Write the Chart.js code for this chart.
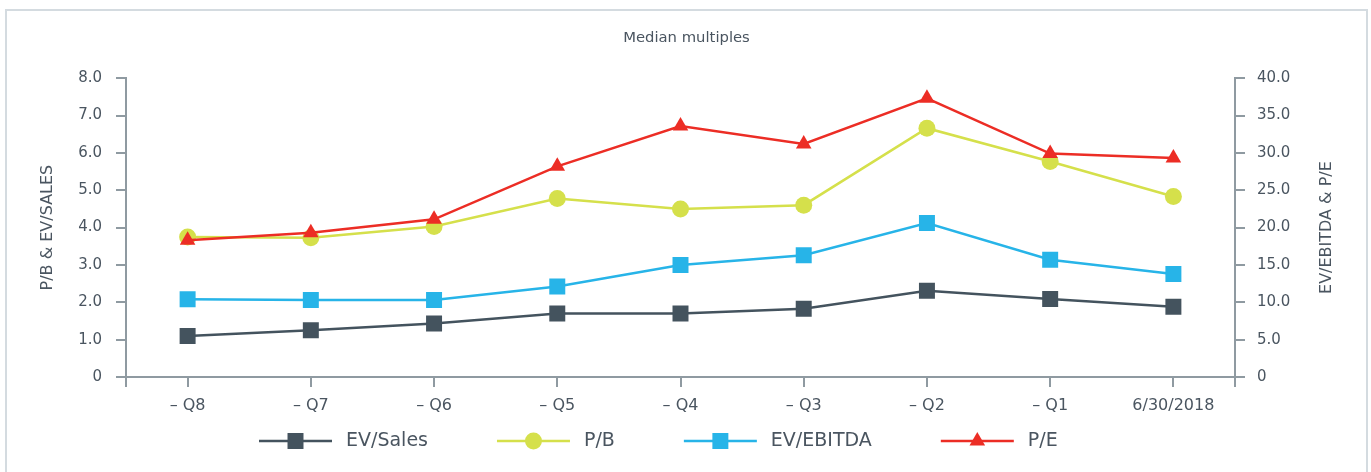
<!DOCTYPE html>
<html>
<head>
<meta charset="utf-8">
<title>Median multiples</title>
<script src="https://cdn.jsdelivr.net/npm/chart.js@4.4.1/dist/chart.umd.min.js"></script>
<style>
  html, body { margin: 0; padding: 0; background: #fff; overflow: hidden; }
  #frame {
    position: absolute; left: 5px; top: 9px; width: 1359px; height: 500px;
    border: 2px solid #d4dbe0; border-bottom: none; pointer-events: none;
  }
  canvas { position: absolute; left: 0; top: 0; }
</style>
</head>
<body>
<canvas id="chart" width="1371" height="472"></canvas>
<div id="frame"></div>
<script>
// --- DATA ---
const quarters = ['– Q8', '– Q7', '– Q6', '– Q5', '– Q4', '– Q3', '– Q2', '– Q1', '6/30/2018'];
const evSales  = [1.10, 1.25, 1.43, 1.70, 1.70, 1.83, 2.31, 2.09, 1.88];
const pb       = [3.75, 3.73, 4.03, 4.78, 4.50, 4.60, 6.66, 5.77, 4.83];
const evEbitda = [10.4, 10.3, 10.3, 12.1, 15.0, 16.3, 20.6, 15.7, 13.8];
const pe       = [18.3, 19.3, 21.1, 28.2, 33.6, 31.2, 37.3, 29.9, 29.3];

const leftTitle  = 'P/B & EV/SALES';
const rightTitle = 'EV/EBITDA & P/E';

// --- STYLE ---
const FONT = "'DejaVu Sans', sans-serif";
const TEXT = '#4a5560';
const AXIS = '#8f9aa1';
const C_SALES = '#44535e', C_PB = '#d5e04b', C_EBITDA = '#27b4e8', C_PE = '#ec2d25';

const fmt = (v) => v === 0 ? '0' : v.toFixed(1);

// custom legend: line + marker + label, drawn under the x axis
const lineLegend = {
  id: 'lineLegend',
  afterDraw(chart) {
    const { ctx, chartArea: area } = chart;
    const y = area.bottom + 64;
    let x = area.left + 133;
    ctx.save();
    ctx.font = `19px ${FONT}`;
    ctx.textBaseline = 'middle';
    ctx.textAlign = 'left';
    chart.data.datasets.forEach(ds => {
      ctx.strokeStyle = ds.borderColor;
      ctx.lineWidth = 2.5;
      ctx.beginPath();
      ctx.moveTo(x, y);
      ctx.lineTo(x + 73, y);
      ctx.stroke();
      ctx.fillStyle = ds.pointBackgroundColor;
      Chart.helpers.drawPoint(ctx, { pointStyle: ds.pointStyle, radius: ds.pointRadius, rotation: 0, borderWidth: 0 }, x + 36.5, y);
      ctx.fillStyle = TEXT;
      ctx.fillText(ds.label, x + 87, y);
      x += 87 + ctx.measureText(ds.label).width + 69;
    });
    ctx.restore();
  }
};

// axis stubs below the x axis + right title reading bottom-to-top
const axisExtras = {
  id: 'axisExtras',
  afterDraw(chart) {
    const { ctx, chartArea: area } = chart;
    ctx.save();
    ctx.strokeStyle = AXIS;
    ctx.lineWidth = 2;
    [Math.round(area.left), Math.round(area.right)].forEach(px => {
      ctx.beginPath();
      ctx.moveTo(px, area.bottom);
      ctx.lineTo(px, area.bottom + 10);
      ctx.stroke();
    });
    ctx.translate(1327, (area.top + area.bottom) / 2);
    ctx.rotate(-Math.PI / 2);
    ctx.font = `16px ${FONT}`;
    ctx.fillStyle = TEXT;
    ctx.textAlign = 'center';
    ctx.textBaseline = 'middle';
    ctx.fillText(rightTitle, 0, 0);
    ctx.restore();
  }
};

const makeSet = (label, data, color, style, radius, axis, order) => ({
  label, data, yAxisID: axis, order,
  borderColor: color, backgroundColor: color,
  pointBackgroundColor: color, pointStyle: style, pointRadius: radius,
  pointBorderWidth: 0, pointHoverRadius: radius, borderWidth: 2.5, tension: 0
});

new Chart(document.getElementById('chart'), {
  type: 'line',
  data: {
    labels: quarters,
    datasets: [
      makeSet('EV/Sales', evSales, C_SALES, 'rect', 11.3, 'y', 4),
      makeSet('P/B', pb, C_PB, 'circle', 8.5, 'y', 2),
      makeSet('EV/EBITDA', evEbitda, C_EBITDA, 'rect', 11.3, 'y1', 3),
      makeSet('P/E', pe, C_PE, 'triangle', 9, 'y1', 1)
    ]
  },
  options: {
    responsive: false,
    animation: false,
    layout: { padding: { left: 7, right: 5, top: 11, bottom: 35 } },
    plugins: {
      legend: { display: false },
      tooltip: { enabled: false },
      title: {
        display: true,
        text: 'Median multiples',
        color: TEXT,
        font: { family: FONT, size: 14.8, weight: 'normal' },
        padding: { top: 18, bottom: 31.4 }
      }
    },
    scales: {
      x: {
        offset: true,
        grid: { offset: false, drawOnChartArea: false, drawTicks: true, tickLength: 10, color: AXIS, lineWidth: 2 },
        border: { display: true, color: AXIS, width: 2 },
        ticks: { color: TEXT, font: { family: FONT, size: 16 }, padding: 9, maxRotation: 0, autoSkip: false },
        afterFit: (s) => { s.height = 60; }
      },
      y: {
        position: 'left',
        min: 0, max: 8,
        grid: { drawOnChartArea: false, drawTicks: true, tickLength: 10, color: AXIS, lineWidth: 2 },
        border: { display: true, color: AXIS, width: 2 },
        ticks: { stepSize: 1, color: TEXT, font: { family: FONT, size: 15 }, padding: 14, callback: fmt },
        title: {
          display: true, text: leftTitle, color: TEXT,
          font: { family: FONT, size: 16 }, padding: { top: 31, bottom: 0 }
        },
        afterFit: (s) => { s.width = 119; }
      },
      y1: {
        position: 'right',
        min: 0, max: 40,
        grid: { drawOnChartArea: false, drawTicks: true, tickLength: 10, color: AXIS, lineWidth: 2 },
        border: { display: true, color: AXIS, width: 2 },
        ticks: { stepSize: 5, color: TEXT, font: { family: FONT, size: 15 }, padding: 12, callback: fmt },
        afterFit: (s) => { s.width = 131; }
      }
    }
  },
  plugins: [lineLegend, axisExtras]
});
</script>
</body>
</html>
